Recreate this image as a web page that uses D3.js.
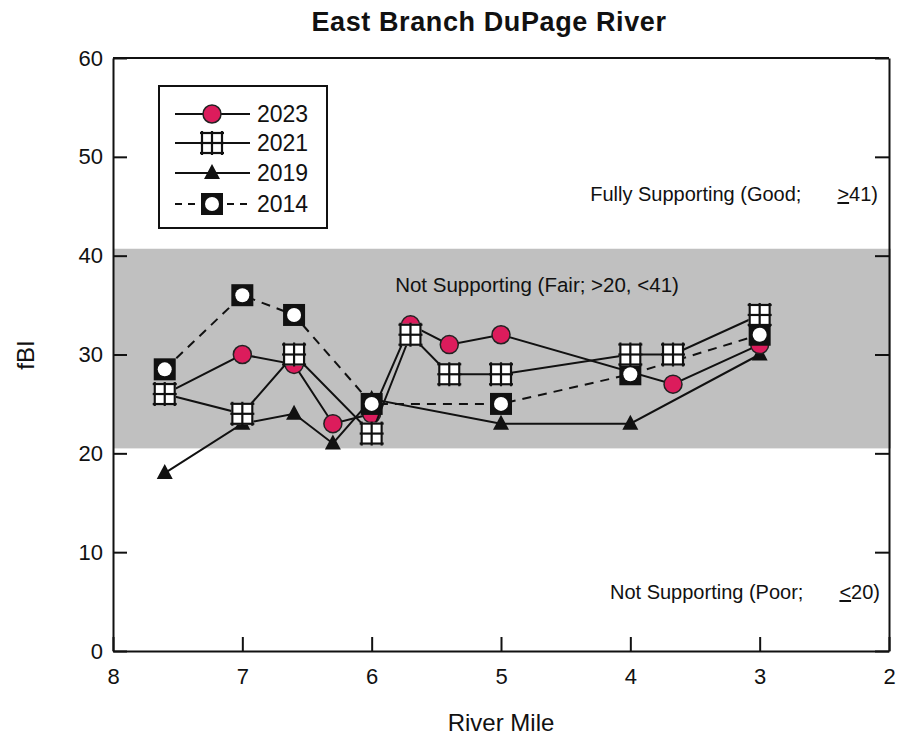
<!DOCTYPE html>
<html>
<head>
<meta charset="utf-8">
<script src="https://cdn.jsdelivr.net/npm/d3@7/dist/d3.min.js"></script>
<style>
  body { margin: 0; background: #fff; }
  text { font-family: Arial, "Liberation Sans", sans-serif; fill: #111; }
</style>
</head>
<body>
<div id="chart"></div>
<script>
(function() {
  var miles2023 = [7.6, 7.0, 6.6, 6.3, 6.0, 5.7, 5.4, 5.0, 3.67, 3.0];
  var fibi2023 = [26, 30, 29, 23, 24, 33, 31, 32, 27, 31];
  var miles2021 = [7.6, 7.0, 6.6, 6.0, 5.7, 5.4, 5.0, 4.0, 3.67, 3.0];
  var fibi2021 = [26, 24, 30, 22, 32, 28, 28, 30, 30, 34];
  var miles2019 = [7.6, 7.0, 6.6, 6.3, 6.0, 5.0, 4.0, 3.0];
  var fibi2019 = [18, 23, 24, 21, 25.5, 23, 23, 30];
  var miles2014 = [7.6, 7.0, 6.6, 6.0, 5.0, 4.0, 3.0];
  var fibi2014 = [28.5, 36, 34, 25, 25, 28, 32];

  var xTicks = [8, 7, 6, 5, 4, 3, 2];
  var yTicks = [0, 10, 20, 30, 40, 50, 60];
  var fairBand = [20.5, 40.7];

  var svg = d3.select('#chart')
            .append('svg')
            .attr('width', 901)
            .attr('height', 741);

  var x = d3.scaleLinear().domain([8, 2]).range([113, 889]);
  var y = d3.scaleLinear().domain([0, 60]).range([651, 58]);

  // fair band
  svg.append('rect')
    .attr('x', x(8))
    .attr('y', y(fairBand[1]))
    .attr('width', x(2) - x(8) + 2)
    .attr('height', y(fairBand[0]) - y(fairBand[1]))
    .attr('fill', '#c0c0c0');

  // axes, ticks pointing inward
  var axisL = svg.append('g')
    .attr('transform', 'translate(' + x(8) + ',0)')
    .call(d3.axisLeft(y).tickValues(yTicks).tickSizeInner(-14).tickSizeOuter(0).tickPadding(10));
  var axisR = svg.append('g')
    .attr('transform', 'translate(' + x(2) + ',0)')
    .call(d3.axisRight(y).tickValues(yTicks).tickSizeInner(-14).tickSizeOuter(0).tickFormat(''));
  var axisB = svg.append('g')
    .attr('transform', 'translate(0,' + y(0) + ')')
    .call(d3.axisBottom(x).tickValues(xTicks).tickSizeInner(-14).tickSizeOuter(0)
      .tickPadding(17).tickFormat(d3.format('d')));

  [axisL, axisR, axisB].forEach(function(a) {
    a.selectAll('path.domain').attr('stroke', '#111').attr('stroke-width', 2);
    a.selectAll('line').attr('stroke', '#111').attr('stroke-width', 2);
    a.selectAll('text').attr('font-size', 22).attr('fill', '#111')
      .attr('font-family', 'Arial, "Liberation Sans", sans-serif');
  });

  // top border
  svg.append('line')
    .attr('x1', x(8)).attr('x2', x(2))
    .attr('y1', y(60)).attr('y2', y(60))
    .attr('stroke', '#111').attr('stroke-width', 2);

  // titles
  svg.append('text')
    .attr('x', 489).attr('y', 31)
    .attr('text-anchor', 'middle')
    .attr('font-size', 27).attr('font-weight', 'bold')
    .attr('letter-spacing', 0.6)
    .text('East Branch DuPage River');
  svg.append('text')
    .attr('x', 501).attr('y', 731)
    .attr('text-anchor', 'middle')
    .attr('font-size', 24)
    .text('River Mile');
  svg.append('text')
    .attr('transform', 'translate(34,355) rotate(-90)')
    .attr('text-anchor', 'middle')
    .attr('font-size', 24)
    .text('fBI');

  // zone labels
  var good = svg.append('text').attr('x', 878).attr('y', 201)
    .attr('text-anchor', 'end').attr('font-size', 20);
  good.append('tspan').text('Fully Supporting (Good;');
  good.append('tspan').attr('dx', 36).attr('text-decoration', 'underline').text('>');
  good.append('tspan').text('41)');

  svg.append('text').attr('x', 537).attr('y', 292)
    .attr('text-anchor', 'middle').attr('font-size', 20.5)
    .text('Not Supporting (Fair; >20, <41)');

  var poor = svg.append('text').attr('x', 880).attr('y', 599)
    .attr('text-anchor', 'end').attr('font-size', 20);
  poor.append('tspan').text('Not Supporting (Poor;');
  poor.append('tspan').attr('dx', 36).attr('text-decoration', 'underline').text('<');
  poor.append('tspan').text('20)');

  // markers
  function drawCircle(g) {
    g.append('circle').attr('r', 9)
      .attr('fill', '#dc1c5c').attr('stroke', '#222').attr('stroke-width', 1.5);
  }
  function drawGrid(g) {
    g.append('rect').attr('x', -11).attr('y', -11).attr('width', 22).attr('height', 22)
      .attr('fill', '#fff');
    [-10, 0, 10].forEach(function(p) {
      g.append('line').attr('x1', p).attr('x2', p).attr('y1', -12).attr('y2', 12)
        .attr('stroke', '#111').attr('stroke-width', 2.2);
      g.append('line').attr('y1', p).attr('y2', p).attr('x1', -12).attr('x2', 12)
        .attr('stroke', '#111').attr('stroke-width', 2.2);
    });
  }
  function drawTriangle(g) {
    g.append('path').attr('d', 'M0,-9L8,6L-8,6Z').attr('fill', '#111');
  }
  function drawBox(g) {
    g.append('rect').attr('x', -11).attr('y', -11).attr('width', 22).attr('height', 22)
      .attr('fill', '#111');
    g.append('circle').attr('r', 7).attr('fill', '#fff');
  }

  var series = [
    { name: '2019', miles: miles2019, vals: fibi2019, dash: null, marker: drawTriangle },
    { name: '2023', miles: miles2023, vals: fibi2023, dash: null, marker: drawCircle },
    { name: '2014', miles: miles2014, vals: fibi2014, dash: '9,7', marker: drawBox },
    { name: '2021', miles: miles2021, vals: fibi2021, dash: null, marker: drawGrid }
  ];

  var line = d3.line()
    .x(function(d) { return x(d[0]); })
    .y(function(d) { return y(d[1]); });

  series.forEach(function(s) {
    var pts = d3.zip(s.miles, s.vals);
    svg.append('path')
      .attr('d', line(pts))
      .attr('fill', 'none')
      .attr('stroke', '#111')
      .attr('stroke-width', 2)
      .attr('stroke-dasharray', s.dash);
    pts.forEach(function(p) {
      var g = svg.append('g')
        .attr('transform', 'translate(' + x(p[0]) + ',' + y(p[1]) + ')');
      s.marker(g);
    });
  });

  // legend
  svg.append('rect')
    .attr('x', 159).attr('y', 86)
    .attr('width', 168).attr('height', 142)
    .attr('fill', '#fff').attr('stroke', '#111').attr('stroke-width', 2);

  var legendItems = [series[1], series[3], series[0], series[2]];
  var legendY = [114, 143, 173, 204];
  legendItems.forEach(function(s, i) {
    var ly = legendY[i];
    svg.append('line')
      .attr('x1', 175).attr('x2', 250)
      .attr('y1', ly).attr('y2', ly)
      .attr('stroke', '#111').attr('stroke-width', 2)
      .attr('stroke-dasharray', s.dash ? '7,6' : null);
    var g = svg.append('g').attr('transform', 'translate(212,' + ly + ')');
    s.marker(g);
    svg.append('text')
      .attr('x', 257).attr('y', ly + 8)
      .attr('font-size', 23)
      .text(s.name);
  });
}());
</script>
</body>
</html>
